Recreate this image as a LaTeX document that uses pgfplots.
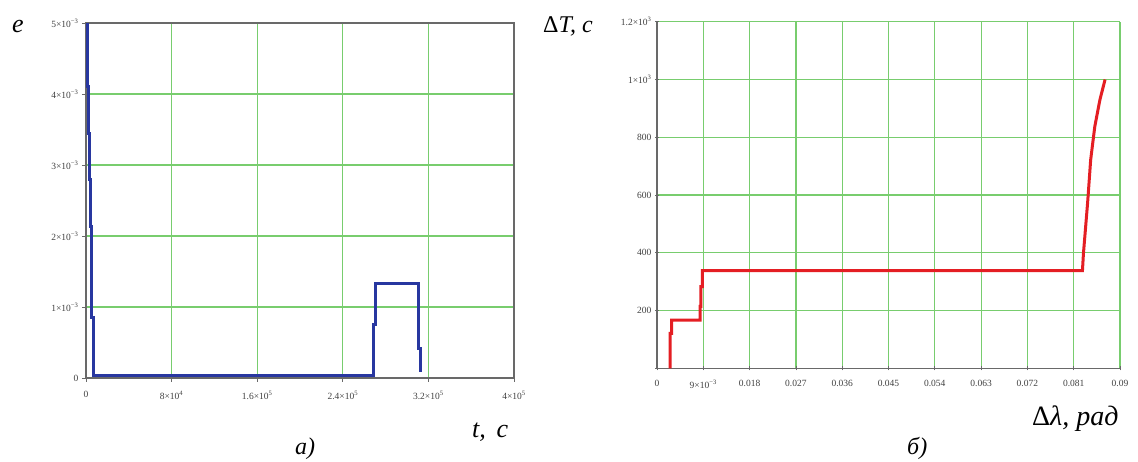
\documentclass[border=0pt]{standalone}
\usepackage{fontspec}
\setmainfont{Liberation Serif}
\usepackage{pgfplots}
\pgfplotsset{compat=1.18}

\definecolor{gridgreen}{RGB}{120,205,110}
\definecolor{curveblue}{RGB}{40,55,160}
\definecolor{curvered}{RGB}{228,30,35}
\definecolor{framegray}{RGB}{105,105,105}

\pgfplotsset{
  mcad/.style={
    scale only axis,
    grid=major,
    major grid style={draw=gridgreen, line width=1.2pt},
    tick style={draw=framegray, line width=0.8pt},
    tick align=outside,
    major tick length=4pt,
    xtick pos=bottom, ytick pos=left,
    ticklabel style={font=\fontsize{9.5}{10}\selectfont, text=black!75},
    axis line style={draw=framegray, line width=1.3pt},
    scaled ticks=false,
    clip=false,
  }
}

\begin{document}
\begin{tikzpicture}
\path (0pt,0pt) rectangle (1138pt,462pt);

% а) e(t)
\begin{axis}[mcad,
  at={(86pt,84pt)}, anchor=south west,
  width=428pt, height=355pt,
  xmin=0, xmax=400000, ymin=0, ymax=0.005,
  xtick={0,80000,160000,240000,320000,400000},
  xticklabels={0, 8×10\textsuperscript{4}, 1.6×10\textsuperscript{5}, 2.4×10\textsuperscript{5}, 3.2×10\textsuperscript{5}, 4×10\textsuperscript{5}},
  ytick={0,0.001,0.002,0.003,0.004,0.005},
  yticklabels={0, 1×10\textsuperscript{−3}, 2×10\textsuperscript{−3}, 3×10\textsuperscript{−3}, 4×10\textsuperscript{−3}, 5×10\textsuperscript{−3}},
  xticklabel style={yshift=-6pt},
]
\addplot[curveblue, line width=3pt] coordinates {
  (1000,0.0050)(1000,0.0041)(2000,0.0041)(2000,0.00345)(3000,0.00345)
  (3000,0.0028)(3800,0.0028)(3800,0.00213)(4700,0.00213)(4700,0.00148)
  (5600,0.00148)(5600,0.00085)(6600,0.00085)(6600,0.00003)
  (268500,0.00003)(268500,0.00075)(271000,0.00075)(271000,0.001324)
  (310300,0.001324)(310300,0.00042)(312800,0.00042)(312800,0.00009)
};
\end{axis}

% б) ΔT(Δλ)
\begin{axis}[mcad,
  at={(657pt,93.7pt)}, anchor=south west,
  width=463pt, height=346.6pt,
  axis lines=left,
  axis line style={-},
  tick align=center,
  xmin=0, xmax=0.09, ymin=0, ymax=1200,
  xtick={0,0.009,0.018,0.027,0.036,0.045,0.054,0.063,0.072,0.081,0.09},
  xticklabels={0, 9×10\textsuperscript{−3}, 0.018, 0.027, 0.036, 0.045, 0.054, 0.063, 0.072, 0.081, 0.09},
  ytick={0,200,400,600,800,1000,1200},
  yticklabels={{}, 200, 400, 600, 800, 1×10\textsuperscript{3}, 1.2×10\textsuperscript{3}},
  xticklabel style={yshift=-6pt},
]
\addplot[curvered, line width=3pt] coordinates {
  (0.00253,0)(0.00253,121)(0.00286,121)(0.00286,167)(0.00836,167)
  (0.00836,214)(0.00855,214)(0.00855,283)(0.0088,283)(0.0088,338)
  (0.0827,338)(0.0829,399)(0.0837,572)(0.0843,722)(0.0851,837)
  (0.0861,930)(0.0871,1000)
};
\end{axis}

\node[anchor=base west, inner sep=0pt] at (12pt,429pt) {\fontsize{26}{26}\selectfont\itshape e};
\node[anchor=base west, inner sep=0pt] at (472pt,24pt) {\fontsize{26}{26}\selectfont\itshape t,\, с};
\node[anchor=base west, inner sep=0pt] at (295pt,7pt) {\fontsize{24}{24}\selectfont\itshape а)};
\node[anchor=base west, inner sep=0pt] at (543pt,429pt) {\fontsize{24}{24}\selectfont Δ\itshape T, с};
\node[anchor=base west, inner sep=0pt] at (1032pt,36pt) {\fontsize{28}{28}\selectfont Δ\itshape λ, рад};
\node[anchor=base west, inner sep=0pt] at (907pt,7pt) {\fontsize{24}{24}\selectfont\itshape б)};
\end{tikzpicture}
\end{document}
